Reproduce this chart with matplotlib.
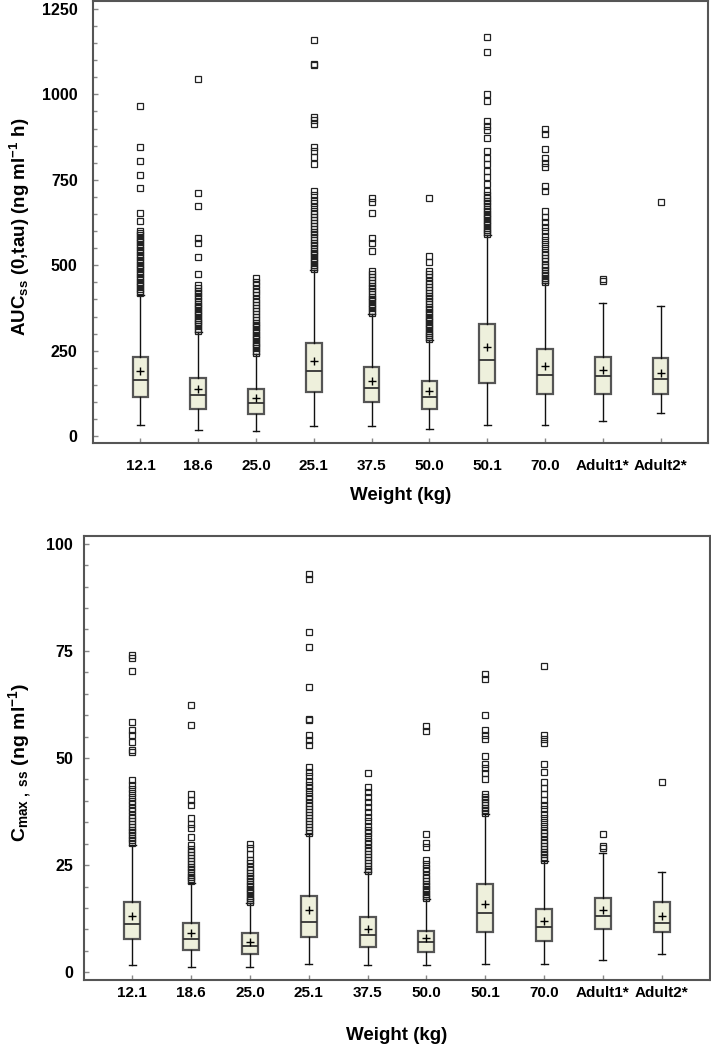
import numpy as np
import matplotlib
matplotlib.use("Agg")
import matplotlib.pyplot as plt
from matplotlib.ticker import MultipleLocator

plt.rcParams['font.family'] = ['Liberation Sans', 'DejaVu Sans']
plt.rcParams['font.weight'] = 'bold'
plt.rcParams['mathtext.fontset'] = 'custom'
plt.rcParams['mathtext.rm'] = 'Liberation Sans:bold'
plt.rcParams['mathtext.bf'] = 'Liberation Sans:bold'
plt.rcParams['mathtext.it'] = 'Liberation Sans:bold:italic'

groups = ["12.1", "18.6", "25.0", "25.1", "37.5", "50.0", "50.1", "70.0", "Adult1*", "Adult2*"]

# AUC ss (0,tau) box statistics
auc_whislo = [32, 18, 16, 30, 29, 21, 34, 32, 44, 68]
auc_q1 = [115, 80, 66, 129, 99, 80, 156, 123, 124, 123]
auc_med = [163, 120, 98, 190, 142, 114, 224, 178, 175, 168]
auc_mean = [191, 137, 112, 221, 161, 132, 262, 205, 195, 186]
auc_q3 = [233, 169, 138, 273, 203, 160, 329, 254, 232, 230]
auc_whishi = [414, 305, 241, 486, 358, 280, 589, 448, 389, 380]
auc_fliers = [
    [418, 425, 431, 438, 446, 452, 459, 467, 473, 480, 488, 495, 502, 509, 516, 524, 531, 538,
     545, 552, 560, 567, 574, 581, 588, 594, 601, 630, 653, 726, 765, 804, 847, 965],
    [308, 314, 321, 327, 334, 340, 347, 353, 360, 367, 374, 380, 388, 395, 403, 410, 418, 426,
     434, 441, 473, 525, 566, 580, 672, 711, 1046],
    [244, 250, 257, 263, 270, 276, 283, 290, 297, 304, 311, 318, 325, 332, 340, 348, 356, 365,
     374, 383, 392, 402, 412, 422, 431, 441, 450, 462],
    [489, 495, 502, 509, 515, 522, 529, 536, 543, 551, 558, 566, 574, 582, 590, 598, 606, 614,
     623, 632, 641, 650, 660, 670, 681, 692, 705, 718, 796, 817, 835, 847, 912, 924, 935, 1085,
     1090, 1158],
    [361, 367, 374, 380, 387, 394, 401, 408, 416, 424, 432, 440, 448, 456, 465, 474, 483, 543,
     564, 580, 654, 686, 698],
    [283, 289, 296, 302, 309, 315, 322, 329, 336, 343, 350, 357, 364, 372, 379, 387, 395, 403,
     411, 419, 428, 437, 446, 455, 465, 475, 484, 509, 528, 696],
    [592, 598, 604, 610, 617, 623, 630, 637, 644, 651, 658, 665, 673, 681, 689, 697, 706, 718,
     737, 757, 776, 796, 815, 835, 871, 895, 908, 923, 981, 1002, 1125, 1168],
    [451, 457, 464, 471, 478, 486, 494, 502, 511, 520, 530, 540, 551, 562, 574, 586, 599, 612,
     626, 641, 660, 718, 732, 788, 800, 815, 841, 885, 898],
    [453, 460],
    [685],
]

# Cmax ss box statistics
cm_whislo = [1.7, 1.2, 1.3, 1.9, 1.6, 1.6, 1.9, 1.9, 2.9, 4.3]
cm_q1 = [7.7, 5.2, 4.2, 8.3, 6.0, 4.7, 9.5, 7.3, 10.0, 9.5]
cm_med = [11.2, 7.7, 6.1, 11.8, 8.7, 7.1, 13.9, 10.5, 13.1, 11.6]
cm_mean = [13.2, 9.2, 7.1, 14.5, 10.2, 8.0, 15.9, 12.0, 14.5, 13.1]
cm_q3 = [16.5, 11.4, 9.1, 17.9, 13.0, 9.7, 20.6, 14.8, 17.3, 16.3]
cm_whishi = [29.7, 20.9, 16.1, 32.2, 23.3, 17.0, 36.9, 26.0, 27.9, 23.5]
cm_fliers = [
    [30.2, 30.8, 31.4, 32.0, 32.7, 33.3, 34.0, 34.7, 35.4, 36.1, 36.8, 37.6, 38.4, 39.2, 40.0,
     40.9, 41.8, 42.8, 43.8, 44.8, 51.3, 51.8, 53.8, 55.3, 56.5, 58.4, 70.2, 73.3, 74.1],
    [21.2, 21.7, 22.2, 22.8, 23.4, 24.0, 24.6, 25.2, 25.9, 26.6, 27.3, 28.0, 28.8, 29.7, 31.6,
     33.6, 34.7, 36.1, 39.0, 40.2, 41.5, 57.8, 62.3],
    [16.4, 16.9, 17.4, 17.9, 18.4, 18.9, 19.5, 20.1, 20.7, 21.3, 21.9, 22.5, 23.2, 23.9, 24.6,
     25.4, 26.2, 27.7, 28.9, 29.9],
    [32.6, 33.2, 33.8, 34.5, 35.2, 35.9, 36.6, 37.3, 38.0, 38.8, 39.6, 40.4, 41.2, 42.0, 42.9,
     43.8, 44.7, 45.7, 46.8, 47.9, 53.1, 54.2, 55.3, 58.8, 59.0, 66.6, 75.8, 79.3, 91.8, 93.0],
    [23.6, 24.2, 24.8, 25.5, 26.2, 26.9, 27.6, 28.3, 29.1, 29.9, 30.7, 31.5, 32.4, 33.3, 34.2,
     35.2, 36.3, 37.4, 38.6, 39.8, 41.0, 42.1, 43.3, 46.6],
    [17.3, 17.8, 18.3, 18.9, 19.5, 20.1, 20.7, 21.4, 22.1, 22.8, 23.6, 24.4, 25.3, 26.2, 29.3,
     30.1, 32.2, 56.3, 57.4],
    [37.2, 37.8, 38.4, 39.0, 39.7, 40.4, 41.0, 41.6, 45.2, 46.4, 47.6, 48.7, 50.5, 54.5, 55.3,
     56.6, 60.0, 68.5, 69.7],
    [26.3, 26.9, 27.5, 28.1, 28.8, 29.5, 30.2, 30.9, 31.7, 32.5, 33.3, 34.2, 35.1, 36.0, 37.0,
     38.0, 39.1, 40.3, 41.7, 43.1, 44.4, 46.8, 48.7, 53.5, 54.5, 55.3, 71.4],
    [29.1, 29.5, 32.2],
    [44.4],
]


def make_stats(whislo, q1, med, mean, q3, whishi, fliers):
    stats = []
    for i in range(len(groups)):
        stats.append(dict(whislo=whislo[i], q1=q1[i], med=med[i], mean=mean[i],
                          q3=q3[i], whishi=whishi[i], fliers=fliers[i], label=groups[i]))
    return stats


def draw_panel(ax, stats):
    pos = np.arange(1, len(groups) + 1)
    ax.bxp(stats, positions=pos, widths=0.27, capwidths=0.12, patch_artist=True,
           showmeans=True, shownotches=False,
           boxprops=dict(facecolor='#eef0dc', edgecolor='#555555', linewidth=1.6),
           medianprops=dict(color='#333333', linewidth=1.3),
           whiskerprops=dict(color='#111111', linewidth=1.0),
           capprops=dict(color='#111111', linewidth=1.0),
           flierprops=dict(marker='s', markerfacecolor='none', markeredgecolor='#222222',
                           markersize=4.6, markeredgewidth=0.9),
           meanprops=dict(marker='+', markeredgecolor='black', markersize=6,
                          markeredgewidth=1.0))
    ax.set_xlim(1 - 0.82, len(groups) + 0.82)
    ax.set_xticks(pos)
    ax.set_xticklabels(groups, fontweight='bold')
    for lab in ax.get_yticklabels():
        lab.set_fontweight('bold')
    for s in ax.spines.values():
        s.set_color('#555555')
        s.set_linewidth(1.5)
    ax.tick_params(which='both', direction='in', color='#888888', width=1.0)
    ax.tick_params(which='major', length=3.5, labelsize=11.5)
    ax.tick_params(axis='x', labelsize=11)
    ax.tick_params(which='minor', length=3)
    ax.tick_params(axis='x', which='minor', bottom=False)


fig = plt.figure(figsize=(7.11, 10.45), dpi=100)

ax1 = fig.add_axes([93 / 711, 1 - 443 / 1045, 615 / 711, 442 / 1045])
draw_panel(ax1, make_stats(auc_whislo, auc_q1, auc_med, auc_mean, auc_q3, auc_whishi, auc_fliers))
ax1.set_ylim(-20, 1273)
ax1.yaxis.set_major_locator(MultipleLocator(250))
ax1.yaxis.set_minor_locator(MultipleLocator(50))
ax1.tick_params(axis='y', pad=11)
ax1.tick_params(axis='x', pad=11.5)
ax1.set_ylabel(r"AUC$_{\mathrm{ss}}$ (0,tau) (ng ml$^{-1}$ h)", fontsize=13.5, fontweight='bold')
ax1.set_xlabel("Weight (kg)", fontsize=13.5, fontweight='bold')
ax1.yaxis.set_label_coords(-0.1, 0.49)
ax1.xaxis.set_label_coords(0.5, -0.1)

ax2 = fig.add_axes([84 / 711, 1 - 980 / 1045, 626 / 711, 444 / 1045])
draw_panel(ax2, make_stats(cm_whislo, cm_q1, cm_med, cm_mean, cm_q3, cm_whishi, cm_fliers))
ax2.set_ylim(-1.8, 101.8)
ax2.yaxis.set_major_locator(MultipleLocator(25))
ax2.yaxis.set_minor_locator(MultipleLocator(5))
ax2.tick_params(axis='y', pad=8)
ax2.tick_params(axis='x', pad=4)
ax2.set_ylabel(r"C$_{\mathrm{max\ ,\ ss}}$ (ng ml$^{-1}$)", fontsize=14, fontweight='bold')
ax2.set_xlabel("Weight (kg)", fontsize=13.5, fontweight='bold')
ax2.yaxis.set_label_coords(-0.08, 0.49)
ax2.xaxis.set_label_coords(0.5, -0.106)

fig.savefig("out.png", dpi=100)
